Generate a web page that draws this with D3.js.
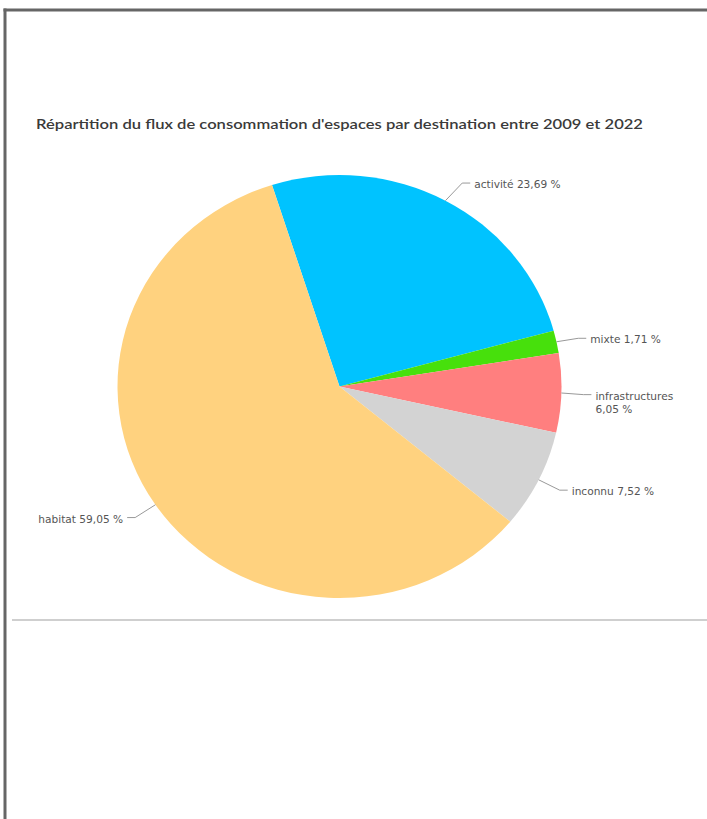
<!DOCTYPE html>
<html>
<head>
<meta charset="utf-8">
<script src="https://cdn.jsdelivr.net/npm/d3@7"></script>
<style>
  html, body { margin: 0; padding: 0; background: #fff; }
  svg { display: block; }
</style>
</head>
<body>
<svg id="chart" width="707" height="819"></svg>
<script>
// données (ordre horaire depuis le haut)
const categories = ["activité", "mixte", "infrastructures", "inconnu", "habitat"];
const percents = [23.69, 1.71, 6.05, 7.52, 59.05];       // valeurs affichées
const shares = [25.67, 1.71, 6.05, 7.52, 59.05];         // part dessinée
const colors = ["#00c3ff", "#47e00c", "#ff7f7f", "#d3d3d3", "#ffd27f"];
const title = "Répartition du flux de consommation d'espaces par destination entre 2009 et 2022";

const W = 707, H = 819;
const cx = 339.5, cy = 386.5;
const ry = 211.5, rx = 222;   // l'image est légèrement étirée en largeur
const sx = rx / ry;

const svg = d3.select("#chart");

// cadre
svg.append("line").attr("x1", 3.5).attr("x2", W).attr("y1", 10).attr("y2", 10)
  .attr("stroke", "#666").attr("stroke-width", 3);
svg.append("line").attr("x1", 5).attr("x2", 5).attr("y1", 8.5).attr("y2", H)
  .attr("stroke", "#666").attr("stroke-width", 3);
svg.append("line").attr("x1", 12).attr("x2", W).attr("y1", 620).attr("y2", 620)
  .attr("stroke", "#cfcfcf").attr("stroke-width", 2);

// titre
svg.append("text")
  .attr("x", 36).attr("y", 129)
  .attr("font-family", "Lato, 'Open Sans', sans-serif")
  .attr("font-weight", 600)
  .attr("font-size", 13.5)
  .attr("fill", "#3a3a3a")
  .attr("textLength", 607)
  .attr("lengthAdjust", "spacingAndGlyphs")
  .text(title);

const data = categories.map((c, i) => ({ name: c, pct: percents[i], share: shares[i], color: colors[i] }));

const start = -17.7 * Math.PI / 180;
const pie = d3.pie().value(d => d.share).sort(null)
  .startAngle(start).endAngle(start + 2 * Math.PI);
const arc = d3.arc().innerRadius(0).outerRadius(ry);

const arcs = pie(data);

const g = svg.append("g")
  .attr("transform", `translate(${cx},${cy}) scale(${sx},1)`);

g.selectAll("path")
  .data(arcs)
  .enter()
  .append("path")
  .attr("d", arc)
  .attr("fill", d => d.data.color);

// étiquettes
const fmt = v => d3.format(".2f")(v).replace(".", ",") + " %";
const labels = svg.append("g")
  .attr("font-family", "'DejaVu Sans', sans-serif")
  .attr("font-size", 10.6)
  .attr("fill", "#555");

arcs.forEach(a => {
  const mid = (a.startAngle + a.endAngle) / 2;
  const s = Math.sin(mid), c = Math.cos(mid);
  const side = s >= 0 ? 1 : -1;
  const ex = cx + rx * s, ey = cy - ry * c;
  const ty = cy - ry * 1.1 * c + 3;
  // le connecteur raccourcit près du sommet
  const tx = ex + side * (24 + 10 * Math.abs(s));

  labels.append("path")
    .attr("d", `M${ex},${ey} L${tx - side * 12},${ty - 2} L${tx - side * 4},${ty - 2}`)
    .attr("fill", "none")
    .attr("stroke", "#999")
    .attr("stroke-width", 1);

  const full = a.data.name + " " + fmt(a.data.pct);
  const t = labels.append("text")
    .attr("x", tx).attr("y", ty + 3)
    .attr("text-anchor", side > 0 ? "start" : "end")
    .text(full);
  // retour à la ligne si ça dépasse le cadre
  if (side > 0 && tx + t.node().getComputedTextLength() > W - 8) {
    t.text(null);
    t.append("tspan").attr("x", tx).text(a.data.name);
    t.append("tspan").attr("x", tx).attr("dy", 13).text(fmt(a.data.pct));
  }
});
</script>
</body>
</html>
